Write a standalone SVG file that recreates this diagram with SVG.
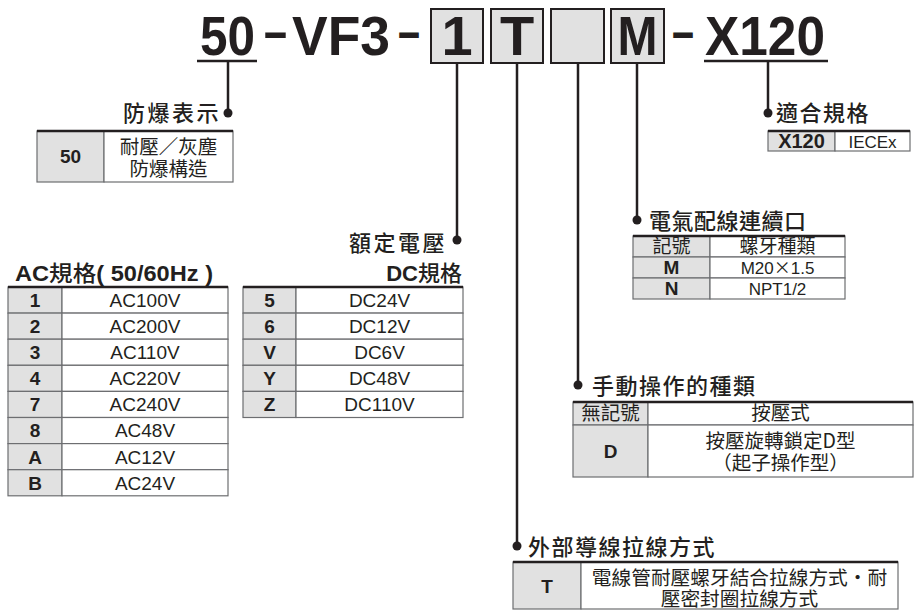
<svg xmlns="http://www.w3.org/2000/svg" width="922" height="611" viewBox="0 0 922 611">
<style>
.t{font-family:"Liberation Sans","Noto Sans CJK TC",sans-serif;fill:#231f20}
.h{font-family:"Liberation Sans",sans-serif;font-weight:bold;font-size:56px;fill:#231f20}
.ttl{font-family:"Noto Sans CJK TC","Liberation Sans",sans-serif;font-weight:500;font-size:22px;letter-spacing:1.5px;fill:#231f20}
.k{font-weight:bold;font-size:19px;text-anchor:middle}
.v{font-size:19px;text-anchor:middle}
.c{font-family:"Noto Sans CJK TC","Liberation Sans",sans-serif;font-size:19.5px;text-anchor:middle;fill:#231f20}
.grey{fill:#e1e1e1;stroke:#6d6e71;stroke-width:1.2}
.white{fill:#fff;stroke:#6d6e71;stroke-width:1.2}
.top{stroke:#231f20;stroke-width:2.5}
.box{fill:#e1e1e1;stroke:#231f20;stroke-width:2}
.conn line{stroke:#231f20;stroke-width:2.5}
.conn circle{fill:#231f20}
</style>

<g id="model">
<text class="h" x="200" y="55" textLength="55" lengthAdjust="spacingAndGlyphs">50</text>
<line x1="197" y1="61" x2="257" y2="61" stroke="#231f20" stroke-width="2.5"/>
<text class="h" x="264" y="50" textLength="23" lengthAdjust="spacingAndGlyphs">–</text>
<text class="h" x="292" y="55" textLength="98" lengthAdjust="spacingAndGlyphs">VF3</text>
<text class="h" x="398" y="50" textLength="22" lengthAdjust="spacingAndGlyphs">–</text>
<rect class="box" x="431" y="9" width="52" height="54"/>
<rect class="box" x="491" y="9" width="52" height="54"/>
<rect class="box" x="551" y="9" width="53" height="54"/>
<rect class="box" x="611" y="9" width="53" height="54"/>
<text class="h" x="457" y="55" text-anchor="middle">1</text>
<text class="h" x="517" y="55" text-anchor="middle">T</text>
<text class="h" x="637.5" y="55" text-anchor="middle" textLength="40" lengthAdjust="spacingAndGlyphs">M</text>
<text class="h" x="672" y="50" textLength="22" lengthAdjust="spacingAndGlyphs">–</text>
<text class="h" x="705" y="55" textLength="120" lengthAdjust="spacingAndGlyphs">X120</text>
<line x1="704" y1="61" x2="828" y2="61" stroke="#231f20" stroke-width="2.5"/>
</g>

<g id="connectors" class="conn">
<line x1="228" y1="61" x2="228" y2="113"/><circle cx="228" cy="113" r="4.5"/>
<line x1="457" y1="63" x2="457" y2="240"/><circle cx="457" cy="240" r="4.5"/>
<line x1="517" y1="63" x2="517" y2="546"/><circle cx="517" cy="546" r="4.5"/>
<line x1="578" y1="63" x2="578" y2="385"/><circle cx="578" cy="385" r="4.5"/>
<line x1="637" y1="63" x2="637" y2="220"/><circle cx="637" cy="220" r="4.5"/>
<line x1="768" y1="61" x2="768" y2="113"/><circle cx="768" cy="113" r="4.5"/>
</g>

<g id="explosion">
<text class="ttl" x="221" y="121" text-anchor="end" style="letter-spacing:2.5px">防爆表示</text>
<rect class="grey" x="37" y="131" width="67" height="51"/>
<rect class="white" x="104" y="131" width="129" height="51"/>
<line class="top" x1="37" y1="131" x2="233" y2="131"/>
<text class="t k" x="70.5" y="163">50</text>
<text class="c" x="168.5" y="154">耐壓／灰塵</text>
<text class="c" x="168.5" y="176">防爆構造</text>
</g>

<g id="standard">
<text class="ttl" x="776" y="121">適合規格</text>
<rect class="grey" x="768" y="131" width="67" height="20"/>
<rect class="white" x="835" y="131" width="75" height="20"/>
<line class="top" x1="768" y1="131" x2="910" y2="131"/>
<text class="t k" x="801.5" y="148" style="font-size:20px">X120</text>
<text class="t v" x="872.5" y="148" style="font-size:17px">IECEx</text>
</g>

<g id="port">
<text class="ttl" x="649" y="229" style="letter-spacing:0.5px">電氣配線連續口</text>
<rect class="grey" x="633" y="236" width="77" height="21"/>
<rect class="white" x="710" y="236" width="135" height="21"/>
<rect class="grey" x="633" y="257" width="77" height="21"/>
<rect class="white" x="710" y="257" width="135" height="21"/>
<rect class="grey" x="633" y="278" width="77" height="21"/>
<rect class="white" x="710" y="278" width="135" height="21"/>
<line class="top" x1="633" y1="236" x2="845" y2="236"/>
<text class="c" x="671.5" y="253" style="font-size:19px">記號</text>
<text class="c" x="777.5" y="253" style="font-size:19px">螺牙種類</text>
<text class="t k" x="671.5" y="274">M</text>
<text class="t v" x="777.5" y="274" style="font-size:17px">M20<tspan style="font-family:'Noto Sans CJK TC',sans-serif">×</tspan>1.5</text>
<text class="t k" x="671.5" y="295">N</text>
<text class="t v" x="777.5" y="295" style="font-size:17px">NPT1/2</text>
</g>

<g id="voltage">
<text class="ttl" x="447" y="251" text-anchor="end" style="letter-spacing:2.5px">額定電壓</text>
<text class="t" x="15" y="281" style="font-size:22px;font-weight:bold" textLength="198" lengthAdjust="spacingAndGlyphs">AC<tspan style="font-family:'Noto Sans CJK TC',sans-serif;font-weight:500">規格</tspan>( 50/60Hz )</text>
<text class="t" x="462" y="281" text-anchor="end" style="font-size:22px;font-weight:bold">DC<tspan style="font-family:'Noto Sans CJK TC',sans-serif;font-weight:500">規格</tspan></text>
</g>

<g id="ac-table">
<rect class="grey" x="8" y="287" width="54" height="26.1"/><rect class="white" x="62" y="287" width="166" height="26.1"/>
<rect class="grey" x="8" y="313.1" width="54" height="26.1"/><rect class="white" x="62" y="313.1" width="166" height="26.1"/>
<rect class="grey" x="8" y="339.2" width="54" height="26.1"/><rect class="white" x="62" y="339.2" width="166" height="26.1"/>
<rect class="grey" x="8" y="365.3" width="54" height="26.1"/><rect class="white" x="62" y="365.3" width="166" height="26.1"/>
<rect class="grey" x="8" y="391.4" width="54" height="26.1"/><rect class="white" x="62" y="391.4" width="166" height="26.1"/>
<rect class="grey" x="8" y="417.5" width="54" height="26.1"/><rect class="white" x="62" y="417.5" width="166" height="26.1"/>
<rect class="grey" x="8" y="443.6" width="54" height="26.1"/><rect class="white" x="62" y="443.6" width="166" height="26.1"/>
<rect class="grey" x="8" y="469.7" width="54" height="26.1"/><rect class="white" x="62" y="469.7" width="166" height="26.1"/>
<line class="top" x1="8" y1="287" x2="228" y2="287"/>
<text class="t k" x="35" y="307">1</text><text class="t v" x="145" y="307">AC100V</text>
<text class="t k" x="35" y="333">2</text><text class="t v" x="145" y="333">AC200V</text>
<text class="t k" x="35" y="359">3</text><text class="t v" x="145" y="359">AC110V</text>
<text class="t k" x="35" y="385">4</text><text class="t v" x="145" y="385">AC220V</text>
<text class="t k" x="35" y="411">7</text><text class="t v" x="145" y="411">AC240V</text>
<text class="t k" x="35" y="437">8</text><text class="t v" x="145" y="437">AC48V</text>
<text class="t k" x="35" y="464">A</text><text class="t v" x="145" y="464">AC12V</text>
<text class="t k" x="35" y="490">B</text><text class="t v" x="145" y="490">AC24V</text>
</g>

<g id="dc-table">
<rect class="grey" x="243" y="287" width="53" height="26.1"/><rect class="white" x="296" y="287" width="167" height="26.1"/>
<rect class="grey" x="243" y="313.1" width="53" height="26.1"/><rect class="white" x="296" y="313.1" width="167" height="26.1"/>
<rect class="grey" x="243" y="339.2" width="53" height="26.1"/><rect class="white" x="296" y="339.2" width="167" height="26.1"/>
<rect class="grey" x="243" y="365.3" width="53" height="26.1"/><rect class="white" x="296" y="365.3" width="167" height="26.1"/>
<rect class="grey" x="243" y="391.4" width="53" height="26.1"/><rect class="white" x="296" y="391.4" width="167" height="26.1"/>
<line class="top" x1="243" y1="287" x2="463" y2="287"/>
<text class="t k" x="269.5" y="307">5</text><text class="t v" x="379.5" y="307">DC24V</text>
<text class="t k" x="269.5" y="333">6</text><text class="t v" x="379.5" y="333">DC12V</text>
<text class="t k" x="269.5" y="359">V</text><text class="t v" x="379.5" y="359">DC6V</text>
<text class="t k" x="269.5" y="385">Y</text><text class="t v" x="379.5" y="385">DC48V</text>
<text class="t k" x="269.5" y="411">Z</text><text class="t v" x="379.5" y="411">DC110V</text>
</g>

<g id="manual">
<text class="ttl" x="592" y="394">手動操作的種類</text>
<rect class="grey" x="573" y="402" width="75" height="23"/>
<rect class="white" x="648" y="402" width="265" height="23"/>
<rect class="grey" x="573" y="425" width="75" height="52"/>
<rect class="white" x="648" y="425" width="265" height="52"/>
<line class="top" x1="573" y1="402" x2="913" y2="402"/>
<text class="c" x="610.5" y="420">無記號</text>
<text class="c" x="780.5" y="420">按壓式</text>
<text class="t k" x="610.5" y="458">D</text>
<text class="c" x="780.5" y="448">按壓旋轉鎖定D型</text>
<text class="c" x="780.5" y="470">（起子操作型）</text>
</g>

<g id="wiring">
<text class="ttl" x="528" y="555">外部導線拉線方式</text>
<rect class="grey" x="513" y="562" width="68" height="47"/>
<rect class="white" x="581" y="562" width="317" height="47"/>
<line class="top" x1="513" y1="562" x2="898" y2="562"/>
<text class="t k" x="547" y="593">T</text>
<text class="c" x="739.5" y="585" style="font-size:19.7px">電線管耐壓螺牙結合拉線方式・耐</text>
<text class="c" x="739.5" y="606" style="font-size:19.7px">壓密封圈拉線方式</text>
</g>
</svg>
